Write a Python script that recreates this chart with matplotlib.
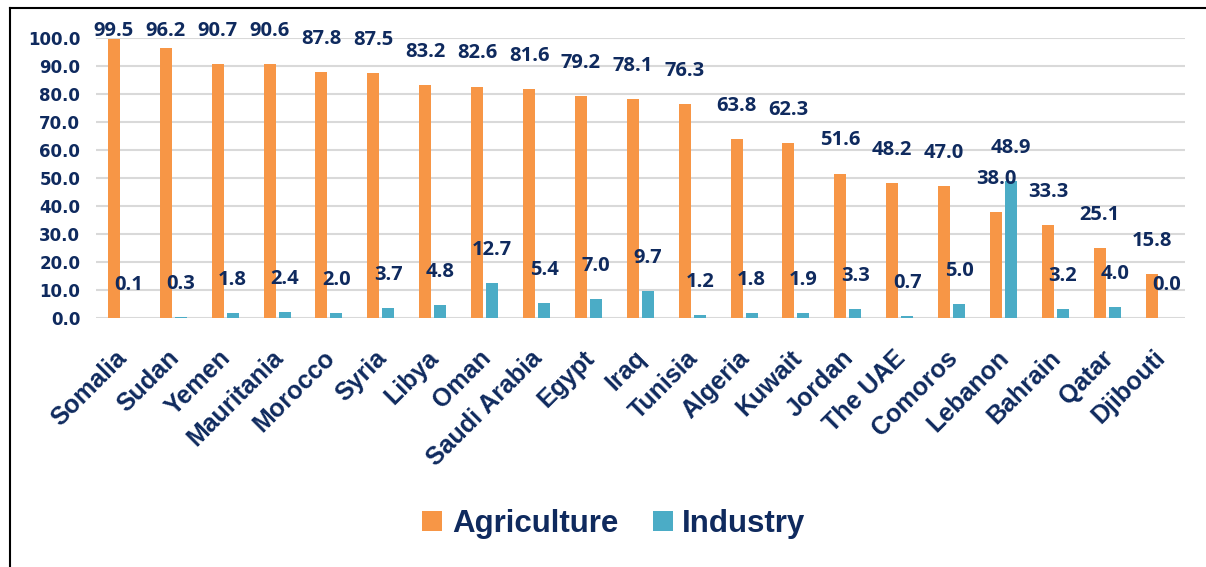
import numpy as np
import matplotlib.pyplot as plt
from matplotlib.lines import Line2D
from matplotlib.transforms import offset_copy

countries = ["Somalia", "Sudan", "Yemen", "Mauritania", "Morocco", "Syria", "Libya", "Oman",
             "Saudi Arabia", "Egypt", "Iraq", "Tunisia", "Algeria", "Kuwait", "Jordan",
             "The UAE", "Comoros", "Lebanon", "Bahrain", "Qatar", "Djibouti"]
agriculture = [99.5, 96.2, 90.7, 90.6, 87.8, 87.5, 83.2, 82.6, 81.6, 79.2, 78.1, 76.3,
               63.8, 62.3, 51.6, 48.2, 47.0, 38.0, 33.3, 25.1, 15.8]
industry = [0.1, 0.3, 1.8, 2.4, 2.0, 3.7, 4.8, 12.7, 5.4, 7.0, 9.7, 1.2,
            1.8, 1.9, 3.3, 0.7, 5.0, 48.9, 3.2, 4.0, 0.0]

navy = "#0f2a5e"
orange = "#F79646"
teal = "#4BACC6"

fig = plt.figure(figsize=(12.06, 5.67), dpi=100)
ax = fig.add_axes([0.0792, 0.4386, 0.9034, 0.4949])

x = np.arange(len(countries))
w = 0.231
off = 0.1445
ax.bar(x - off, agriculture, w, color=orange, label="Agriculture")
ax.bar(x + off, industry, w, color=teal, label="Industry")

# value labels sit a fixed distance above each bar, kept inside the top of the chart
for xi, a, ind in zip(x, agriculture, industry):
    for xpos, v in ((xi - off, a), (xi + off, ind)):
        ax.annotate(f"{v:.1f}", xy=(xpos, min(v, 90.45)), xytext=(0, 23.8),
                    textcoords="offset points", ha="center", va="center",
                    fontsize=14.5, fontweight="bold", family="Open Sans", color=navy)

ax.set_xlim(-0.5, len(countries) - 0.5)
ax.set_ylim(0, 100)
ax.set_yticks(np.arange(0, 101, 10))
ax.set_yticklabels([f"{t:.1f}" for t in np.arange(0, 101, 10)],
                   fontsize=12, fontweight="bold", family="DejaVu Sans", color=navy)
ax.tick_params(axis="y", length=0, pad=11)
ax.set_xticks([])
ax.yaxis.grid(True, color="#d9d9d9", lw=1.5)
ax.set_axisbelow(True)
for s in ax.spines.values():
    s.set_visible(False)

# rotated country names under each pair of bars
trans = offset_copy(ax.get_xaxis_transform(), fig=fig, x=2, y=-36, units="dots")
for xi, name in zip(x, countries):
    ax.text(xi, 0, name, transform=trans, rotation=45, rotation_mode="anchor",
            ha="right", va="center", fontsize=18, fontweight="bold",
            family="Liberation Sans", color=navy)

fig.legend(loc="center", bbox_to_anchor=(0.509, 0.076), ncol=2, frameon=False,
           prop=dict(family="Liberation Sans", weight="bold", size=22.5),
           handlelength=0.64, handleheight=0.64, handletextpad=0.3,
           columnspacing=1.1, labelcolor=navy)

# thin black frame along the top and left
fig.add_artist(Line2D([10 / 1206, 1], [1 - 8 / 567] * 2, transform=fig.transFigure,
                      color="black", lw=1.5))
fig.add_artist(Line2D([10 / 1206] * 2, [0, 1 - 8 / 567], transform=fig.transFigure,
                      color="black", lw=1.5))

fig.savefig("out.png", dpi=100)
